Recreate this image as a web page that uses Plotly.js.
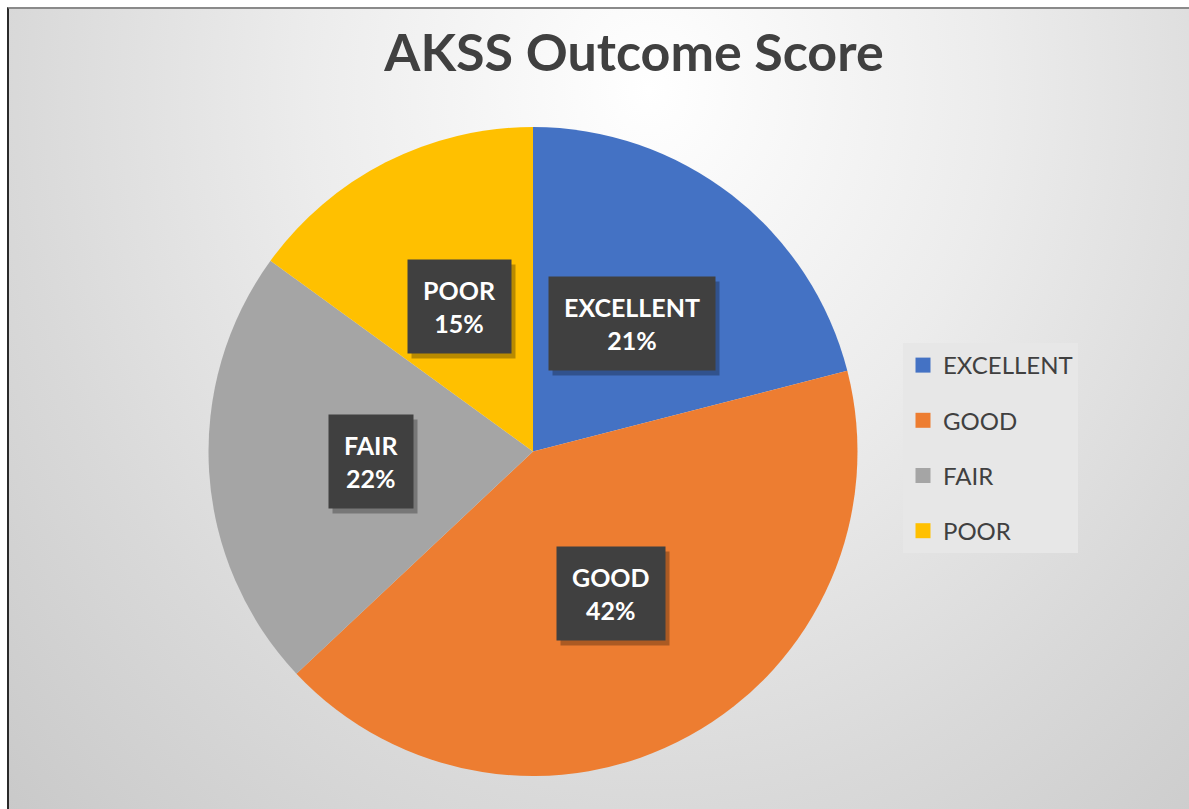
<!DOCTYPE html>
<html>
<head>
<meta charset="utf-8">
<script src="https://cdn.plot.ly/plotly-3.0.1.min.js"></script>
<style>
  html, body { margin: 0; padding: 0; background: #ffffff; width: 1189px; height: 809px; overflow: hidden; }
  #bg {
    position: absolute; left: 7px; top: 7px; width: 1190px; height: 810px;
    border-left: 2px solid #2a2a2a; border-top: 2px solid #8a8a8a;
    background: radial-gradient(ellipse farthest-corner at 640px 80px, #ffffff 0%, #ececec 38%, #d9d9d9 70%, #c9c9c9 100%);
  }
  #chart { position: absolute; left: 0; top: 0; width: 1189px; height: 809px; }
</style>
</head>
<body>
<div id="bg"></div>
<div id="chart"></div>
<script>
const categories = ['EXCELLENT', 'GOOD', 'FAIR', 'POOR'];
const values = [21, 42, 22, 15];
const percentLabels = ['21%', '42%', '22%', '15%'];
const sliceColors = ['#4472C4', '#ED7D31', '#A5A5A5', '#FFC000'];
const chartTitle = 'AKSS Outcome Score';

const W = 1189, H = 809;
const pieBox = { x0: 208, x1: 858, y0: 127, y1: 776 };
const domX = [pieBox.x0 / W, pieBox.x1 / W];
const domY = [1 - pieBox.y1 / H, 1 - pieBox.y0 / H];
const cx = (pieBox.x0 + pieBox.x1) / 2, cy = (pieBox.y0 + pieBox.y1) / 2;
const R = Math.min(pieBox.x1 - pieBox.x0, pieBox.y1 - pieBox.y0) / 2;

const pie = {
  type: 'pie',
  labels: categories,
  values: values,
  sort: false,
  direction: 'clockwise',
  rotation: 0,
  marker: { colors: sliceColors, line: { width: 0 } },
  textinfo: 'none',
  hoverinfo: 'label+percent',
  showlegend: false,
  domain: { x: domX, y: domY }
};

const legendTraces = categories.map((c, i) => ({
  type: 'scatter', mode: 'markers', x: [null], y: [null],
  name: c, legendgroup: 'g' + i,
  marker: { symbol: 'square', size: 15, color: sliceColors[i] },
  hoverinfo: 'skip'
}));

const total = values.reduce((a, b) => a + b, 0);
const annotations = [];
let cum = 0;
values.forEach((v, i) => {
  const mid = (cum + v / 2) / total * 2 * Math.PI;
  cum += v;
  const px = cx + 0.5 * R * Math.sin(mid);
  const py = cy - 0.5 * R * Math.cos(mid);
  annotations.push({
    xref: 'paper', yref: 'paper', x: px / W, y: 1 - py / H,
    xanchor: 'center', yanchor: 'middle', showarrow: false,
    text: categories[i] + '<br>' + percentLabels[i],
    borderpad: 15,
    bgcolor: '#404040',
    font: { family: 'Lato, sans-serif', size: 25, color: '#ffffff', weight: 'bold' }
  });
});

const layout = {
  width: W, height: H,
  margin: { l: 0, r: 0, t: 0, b: 0 },
  paper_bgcolor: 'rgba(0,0,0,0)',
  plot_bgcolor: 'rgba(0,0,0,0)',
  title: {
    text: '<b>' + chartTitle + '</b>',
    x: 634 / W, xanchor: 'center', xref: 'paper',
    y: 1 - 53 / H, yanchor: 'middle', yref: 'paper',
    font: { family: 'Lato, sans-serif', size: 52, color: '#404040' }
  },
  xaxis: { visible: false, domain: [0.95, 1] },
  yaxis: { visible: false, domain: [0.95, 1] },
  showlegend: true,
  legend: {
    x: 903 / W, xanchor: 'left', y: 1 - 343 / H, yanchor: 'top',
    bgcolor: '#e7e7e7', borderwidth: 0,
    font: { family: 'Lato, sans-serif', size: 24, color: '#404040' },
    tracegroupgap: 21,
    itemclick: false, itemdoubleclick: false
  },
  annotations: annotations
};

Plotly.newPlot('chart', [pie].concat(legendTraces), layout, { displayModeBar: false, staticPlot: true }).then(gd => {
  // drop shadows placed under the rendered label boxes
  const host = gd.getBoundingClientRect();
  const shapes = [];
  gd.querySelectorAll('g.annotation rect.bg').forEach(r => {
    const b = r.getBoundingClientRect();
    const l = b.left - host.left, t = b.top - host.top;
    const sx = 4, sy = 5;
    shapes.push({
      type: 'rect', xref: 'paper', yref: 'paper', layer: 'above',
      x0: (l + sx) / W, x1: (l + b.width + sx) / W,
      y0: 1 - (t + b.height + sy) / H, y1: 1 - (t + sy) / H,
      fillcolor: 'rgba(0,0,0,0.28)', line: { width: 0 }
    });
  });
  return Plotly.relayout(gd, { shapes: shapes });
});
</script>
</body>
</html>
